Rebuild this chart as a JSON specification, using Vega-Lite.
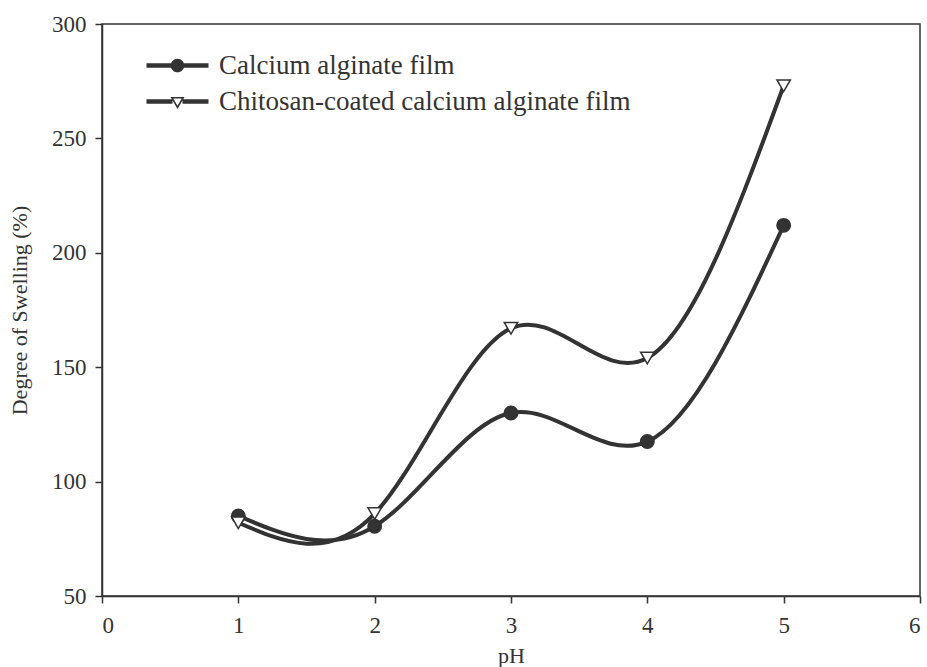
{
  "$schema": "https://vega.github.io/schema/vega-lite/v6.json",
  "width": 818,
  "height": 572,
  "autosize": {"type": "none"},
  "padding": {"left": 102, "top": 24, "right": 7, "bottom": 71},
  "background": "white",
  "config": {
    "font": "Liberation Serif",
    "view": {"stroke": "#333", "strokeWidth": 1.5},
    "axis": {
      "domainColor": "#333",
      "domainWidth": 1.5,
      "tickColor": "#333",
      "tickWidth": 1.5,
      "tickSize": 7,
      "grid": false,
      "labelFont": "Liberation Serif",
      "labelFontSize": 23,
      "labelColor": "#333",
      "titleFont": "Liberation Serif",
      "titleFontSize": 22,
      "titleFontWeight": "normal",
      "titleColor": "#333"
    }
  },
  "data": {
    "values": [
      {"film": "Calcium alginate film", "pH": 1, "swelling": 85},
      {"film": "Calcium alginate film", "pH": 2, "swelling": 80.5},
      {"film": "Calcium alginate film", "pH": 3, "swelling": 130},
      {"film": "Calcium alginate film", "pH": 4, "swelling": 117.5},
      {"film": "Calcium alginate film", "pH": 5, "swelling": 212},
      {"film": "Chitosan-coated calcium alginate film", "pH": 1, "swelling": 82},
      {"film": "Chitosan-coated calcium alginate film", "pH": 2, "swelling": 86},
      {"film": "Chitosan-coated calcium alginate film", "pH": 3, "swelling": 167},
      {"film": "Chitosan-coated calcium alginate film", "pH": 4, "swelling": 154},
      {"film": "Chitosan-coated calcium alginate film", "pH": 5, "swelling": 273}
    ]
  },
  "encoding": {
    "x": {
      "field": "pH",
      "type": "quantitative",
      "scale": {"domain": [0, 6], "nice": false},
      "axis": {"values": [0, 1, 2, 3, 4, 5, 6], "title": "pH", "labelPadding": 11, "titlePadding": 8}
    },
    "y": {
      "field": "swelling",
      "type": "quantitative",
      "scale": {"domain": [50, 300], "nice": false, "zero": false},
      "axis": {"values": [50, 100, 150, 200, 250, 300], "title": "Degree of Swelling (%)", "labelPadding": 9, "titlePadding": 20}
    }
  },
  "layer": [
    {
      "mark": {"type": "line", "interpolate": "natural", "strokeWidth": 4, "color": "#333"},
      "encoding": {"detail": {"field": "film", "type": "nominal"}}
    },
    {
      "mark": {"type": "point", "filled": true, "stroke": "#333", "strokeWidth": 1.5, "size": 180, "opacity": 1},
      "encoding": {
        "shape": {
          "field": "film",
          "type": "nominal",
          "scale": {"domain": ["Calcium alginate film", "Chitosan-coated calcium alginate film"], "range": ["circle", "triangle-down"]},
          "legend": null
        },
        "fill": {
          "field": "film",
          "type": "nominal",
          "scale": {"domain": ["Calcium alginate film", "Chitosan-coated calcium alginate film"], "range": ["#333", "#ffffff"]},
          "legend": null
        }
      }
    },
    {
      "transform": [{"filter": "false"}],
      "mark": {"type": "point", "filled": true, "color": "#333", "strokeWidth": 0, "opacity": 1},
      "encoding": {
        "shape": {
          "field": "film",
          "type": "nominal",
          "scale": {
            "domain": ["Calcium alginate film", "Chitosan-coated calcium alginate film"],
            "range": [
              "M-3.1,-0.22H-0.6V0.22H-3.1Z M0.6,-0.22H3.1V0.22H0.6Z M-0.68,0A0.68,0.68 0 1,1 0.68,0A0.68,0.68 0 1,1 -0.68,0Z",
              "M-3.1,-0.22H-0.5V0.22H-3.1Z M0.5,-0.22H3.1V0.22H0.5Z M-0.7,-0.45L0.7,-0.45L0,0.75Z M-0.421,-0.29L0,0.432L0.421,-0.29Z"
            ]
          },
          "legend": {
            "orient": "none",
            "legendX": 62,
            "legendY": 28,
            "title": null,
            "symbolSize": 400,
            "symbolStrokeWidth": 0,
            "symbolOpacity": 1,
            "labelFont": "Liberation Serif",
            "labelFontSize": 27,
            "labelColor": "#333",
            "labelOffset": 28,
            "labelLimit": 700,
            "rowPadding": 8,
            "padding": 0
          }
        }
      }
    }
  ],
  "resolve": {"scale": {"shape": "independent"}}
}
